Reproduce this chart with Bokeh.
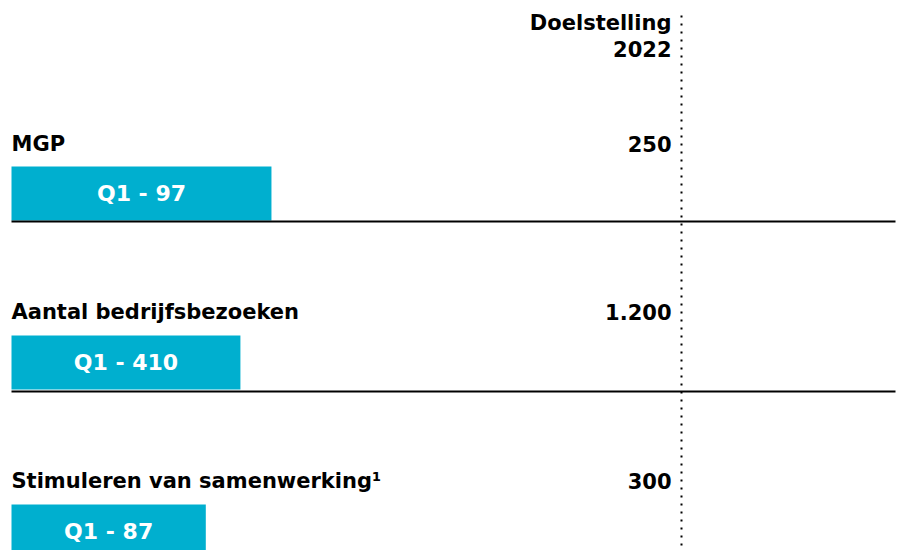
from bokeh.plotting import figure
from bokeh.models import Range1d, ColumnDataSource
from bokeh.core.properties import value
from bokeh.embed import file_html
from bokeh.resources import INLINE

# ---- data ----
categories = ["MGP", "Aantal bedrijfsbezoeken", "Stimuleren van samenwerking\u00b9"]
q1_values = [97, 410, 87]
targets = [250, 1200, 300]
target_labels = ["250", "1.200", "300"]
header_lines = ["Doelstelling", "2022"]

W, H = 901, 550
PX_PER_UNIT = 670.0
X0_PX = 11.0  # pixel offset of zero from left edge
x_start = -X0_PX / PX_PER_UNIT
x_end = x_start + W / PX_PER_UNIT
line_end = x_start + 895 / PX_PER_UNIT

p = figure(width=W, height=H, output_backend="svg", toolbar_location=None,
           x_range=Range1d(x_start, x_end), y_range=Range1d(H, 0),
           min_border=0, min_border_left=0, min_border_right=0,
           min_border_top=0, min_border_bottom=0)
p.axis.visible = False
p.grid.visible = False
p.outline_line_color = None
p.background_fill_color = "white"
p.border_fill_color = "white"

ROW = 169
label_y = [143 + i * 168.5 for i in range(len(categories))]
bar_y = [193 + i * ROW for i in range(len(categories))]
line_y = [221 + i * 170 for i in range(len(categories) - 1)]

ratios = [v / t for v, t in zip(q1_values, targets)]
bar_text = ["Q1 - %d" % v for v in q1_values]

src = ColumnDataSource(dict(cat=categories, ratio=ratios, ly=label_y, by=bar_y,
                            btxt=bar_text, tlab=target_labels,
                            mid=[r / 2 for r in ratios], one=[1.0] * len(categories),
                            zero=[0.0] * len(categories)))

FONT = value("DejaVu Sans")

# bars
p.hbar(y="by", left="zero", right="ratio", height=54, source=src,
       fill_color="#00AFCF", line_color=None)
p.text(x="mid", y="by", text="btxt", source=src, text_font=FONT,
       text_font_style="bold", text_font_size="22px", text_color="white",
       text_align="center", text_baseline="middle")

# category labels
p.text(x="zero", y="ly", text="cat", source=src, text_font=FONT,
       text_font_style="bold", text_font_size="21px", text_color="black",
       text_align="left", text_baseline="middle")

# target labels
p.text(x="one", y="ly", text="tlab", source=src, text_font=FONT,
       text_font_style="bold", text_font_size="21px", text_color="black",
       text_align="right", text_baseline="middle", x_offset=-10)

# header
p.text(x=[1.0, 1.0], y=[22, 48], text=header_lines, text_font=FONT,
       text_font_style="bold", text_font_size="21px", text_color="black",
       text_align="right", text_baseline="middle", x_offset=-10)

# separators
for ly in line_y:
    p.segment(x0=[0.0], x1=[line_end], y0=[ly], y1=[ly], line_color="black", line_width=2)

# target dotted line
p.segment(x0=[1.0], x1=[1.0], y0=[15], y1=[H], line_color="black",
          line_width=2, line_dash="2 6")

html = file_html(p, INLINE)
open("out.html", "w").write(html)
